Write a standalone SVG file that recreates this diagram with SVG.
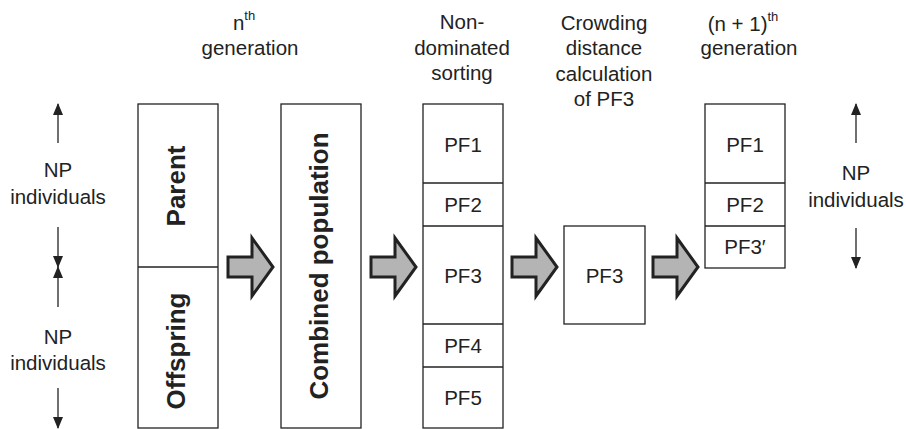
<svg xmlns="http://www.w3.org/2000/svg" width="906" height="429" viewBox="0 0 906 429">
<defs>
<style>
.t{font-family:"Liberation Sans",Arial,sans-serif;font-size:20.5px;fill:#222;text-anchor:middle}
.sup{font-size:13px}
.b{font-family:"Liberation Sans",Arial,sans-serif;font-size:26px;font-weight:bold;fill:#222;text-anchor:middle}
.box{fill:#fff;stroke:#222;stroke-width:1.3}
.ln{stroke:#222;stroke-width:1.3;fill:none}
.blk{fill:#b4b4b4;stroke:#222;stroke-width:3;stroke-linejoin:miter}
.ar{stroke:#222;stroke-width:1.3;fill:none}
</style>
<marker id="ah" viewBox="0 0 12 10" refX="11" refY="5" markerWidth="12" markerHeight="10" markerUnits="userSpaceOnUse" orient="auto">
<path d="M0,0 L12,5 L0,10 Z" fill="#222"/>
</marker>
<path id="blk" d="M0,-10 H24 V-29 L45,0 L24,29 V10 H0 Z"/>
</defs>

<g id="headings">
<text class="t" x="244" y="30">n<tspan class="sup" dy="-10">th</tspan></text>
<text class="t" x="250" y="55">generation</text>
<text class="t" x="462" y="29">Non-</text>
<text class="t" x="462" y="55">dominated</text>
<text class="t" x="462" y="80">sorting</text>
<text class="t" x="604" y="30">Crowding</text>
<text class="t" x="604" y="55">distance</text>
<text class="t" x="604" y="81">calculation</text>
<text class="t" x="604" y="106">of PF3</text>
<text class="t" x="743" y="31">(n + 1)<tspan class="sup" dy="-10">th</tspan></text>
<text class="t" x="749" y="55">generation</text>
</g>

<g id="left-np">
<text class="t" x="58" y="177">NP</text>
<text class="t" x="58" y="204">individuals</text>
<text class="t" x="58" y="344">NP</text>
<text class="t" x="58" y="370">individuals</text>
</g>

<g id="right-np">
<text class="t" x="856" y="180">NP</text>
<text class="t" x="856" y="207">individuals</text>
</g>

<g id="parent-offspring">
<rect class="box" x="138" y="104" width="80" height="324"/>
<line class="ln" x1="138" y1="267" x2="218" y2="267"/>
<text class="b" transform="translate(185,186) rotate(-90)">Parent</text>
<text class="b" transform="translate(185,351) rotate(-90)">Offspring</text>
</g>

<g id="combined">
<rect class="box" x="281" y="104" width="80" height="324"/>
<text class="b" transform="translate(328,266) rotate(-90)">Combined population</text>
</g>

<g id="nds">
<rect class="box" x="423" y="104" width="80" height="324"/>
<line class="ln" x1="423" y1="183" x2="503" y2="183"/>
<line class="ln" x1="423" y1="226" x2="503" y2="226"/>
<line class="ln" x1="423" y1="324" x2="503" y2="324"/>
<line class="ln" x1="423" y1="367" x2="503" y2="367"/>
<text class="t" x="463" y="152">PF1</text>
<text class="t" x="463" y="212">PF2</text>
<text class="t" x="463" y="283">PF3</text>
<text class="t" x="463" y="353">PF4</text>
<text class="t" x="463" y="405">PF5</text>
</g>

<g id="crowding">
<rect class="box" x="564" y="226" width="81" height="98"/>
<text class="t" x="604.5" y="283">PF3</text>
</g>

<g id="nextgen">
<rect class="box" x="705" y="104" width="80" height="164"/>
<line class="ln" x1="705" y1="183" x2="785" y2="183"/>
<line class="ln" x1="705" y1="226" x2="785" y2="226"/>
<text class="t" x="745" y="152">PF1</text>
<text class="t" x="745" y="212">PF2</text>
<text class="t" x="745" y="254">PF3′</text>
</g>

<g id="connectors">
<use href="#blk" class="blk" transform="translate(228,267)"/>
<use href="#blk" class="blk" transform="translate(371,267)"/>
<use href="#blk" class="blk" transform="translate(512,267)"/>
<use href="#blk" class="blk" transform="translate(653,267)"/>
<line class="ar" x1="58" y1="143" x2="58" y2="104" marker-end="url(#ah)"/>
<line class="ar" x1="58" y1="227" x2="58" y2="267" marker-end="url(#ah)"/>
<line class="ar" x1="58" y1="307" x2="58" y2="267" marker-end="url(#ah)"/>
<line class="ar" x1="58" y1="388" x2="58" y2="428" marker-end="url(#ah)"/>
<line class="ar" x1="856" y1="143" x2="856" y2="104" marker-end="url(#ah)"/>
<line class="ar" x1="856" y1="228" x2="856" y2="268" marker-end="url(#ah)"/>
</g>
</svg>
